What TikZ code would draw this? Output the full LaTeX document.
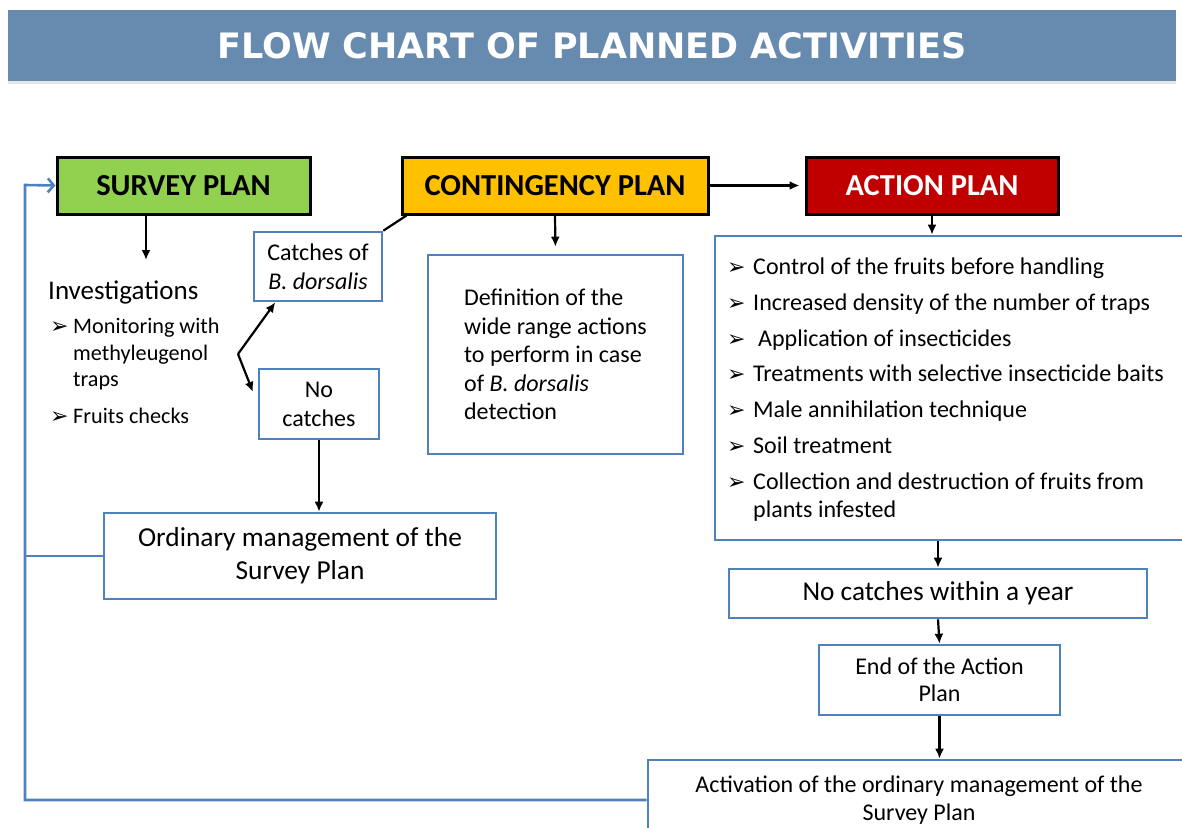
\documentclass[tikz,border=0pt]{standalone}
\usepackage{fontspec}
\setmainfont{Carlito}
\newfontfamily\headfont{DejaVu Sans}
\usepackage{tikz}
\usetikzlibrary{arrows.meta,shadows}

\definecolor{headblue}{RGB}{103,138,175}
\definecolor{survgreen}{RGB}{146,208,80}
\definecolor{contgold}{RGB}{255,192,0}
\definecolor{actred}{RGB}{192,0,0}
\definecolor{lineblue}{RGB}{79,129,189}

\newcommand{\arrbullet}{{\headfont\fontsize{22}{22}\selectfont ➢}}

\begin{document}
\begin{tikzpicture}[x=1pt,y=-1pt,font=\fontsize{24}{28}\selectfont,
  plan/.style={draw=black,line width=3pt,minimum height=57pt,
    font=\fontsize{30.5}{30.5}\selectfont\bfseries},
  box/.style={draw=lineblue,line width=2.6pt,align=center},
  txt/.style={anchor=base west,inner sep=0pt},
  arr/.style={line width=2.2pt,-{Latex[length=10pt,width=9pt]}},
  loopline/.style={draw=lineblue,line width=2.6pt}]

\useasboundingbox (0,0) rectangle (1182,827);

% heading
\node[fill=headblue,minimum width=1168pt,minimum height=71pt,text=white,
  font=\headfont\bfseries\fontsize{35}{35}\selectfont,
  drop shadow={opacity=0.2,shadow xshift=0pt,shadow yshift=-3pt}]
  (head) at (592,45.5) {FLOW CHART OF PLANNED ACTIVITIES};

% the three plans
\node[plan,fill=survgreen,minimum width=253pt] (survey) at (183.5,185.5) {SURVEY PLAN};
\node[plan,fill=contgold,minimum width=306pt] (cont) at (555,185.5) {CONTINGENCY PLAN};
\node[plan,fill=actred,text=white,minimum width=252pt] (action) at (932,185.5) {ACTION PLAN};

% survey plan: investigations
\node[txt,font=\fontsize{27}{27}\selectfont] (inv) at (48,299) {Investigations};
\foreach \yy/\t [count=\i] in {333/Monitoring with,360/methyleugenol,386/traps,423/Fruits checks}
  \node[txt,font=\fontsize{22.2}{22.2}\selectfont] (inv\i) at (73,\yy) {\t};
\foreach \yy in {333,423}
  \node[txt] (invb\yy) at (50,\yy) {\arrbullet};

% outcomes of the traps
\node[box,minimum width=128pt,minimum height=69pt,font=\fontsize{24}{29}\selectfont]
  (catches) at (318,266.5) {Catches of\\\textit{B. dorsalis}};
\node[box,minimum width=120pt,minimum height=70pt,font=\fontsize{24}{29}\selectfont]
  (nocatch) at (319,404) {No\\catches};
\node[box,minimum width=392pt,minimum height=86pt,font=\fontsize{27.4}{33}\selectfont]
  (ordin) at (300,556) {Ordinary management of the\\Survey Plan};

% contingency plan
\node[box,align=left,minimum width=255pt,minimum height=199pt,font=\fontsize{24}{28.5}\selectfont]
  (defin) at (555.5,354.5) {Definition of the\\wide range actions\\to perform in case\\of \textit{B. dorsalis}\\detection};

% action plan
\node[box,minimum width=480pt,minimum height=304pt] (measures) at (955,388) {};
\foreach \xx/\yy/\t in {753/274/Control of the fruits before handling,
    753/310/Increased density of the number of traps,
    758/346/Application of insecticides,
    753/381/Treatments with selective insecticide baits,
    753/417/Male annihilation technique,
    753/453/Soil treatment,
    753/489/Collection and destruction of fruits from,
    753/517/plants infested}
  \node[txt] (m\yy) at (\xx,\yy) {\t};
\foreach \yy in {274,310,346,381,417,453,489}
  \node[txt] (mb\yy) at (727,\yy) {\arrbullet};

\node[box,minimum width=418pt,minimum height=49pt,font=\fontsize{27.3}{27.3}\selectfont]
  (noyear) at (938,593.5) {No catches within a year};
\node[box,minimum width=241pt,minimum height=70pt,font=\fontsize{24}{27}\selectfont]
  (endap) at (939.5,680) {End of the Action\\Plan};
\node[box,minimum width=542pt,minimum height=80pt,font=\fontsize{24}{28}\selectfont]
  (activ) at (919,800) {Activation of the ordinary management of the\\Survey Plan};

% arrows
\coordinate (survtip) at (146,260);
\coordinate (fork) at (238,354);
\draw[arr] (survey.south -| survtip) -- (survtip);
\draw[line width=2.2pt] ([xshift=6pt]cont.south west) -- (catches.north east);
\draw[arr] (fork) -- (catches.220);
\draw[arr,shorten >=13pt] (fork) -- (nocatch.west);
\draw[arr] (nocatch.south) -- (nocatch.south |- ordin.north);
\draw[arr,shorten >=7pt] (cont.south) -- (defin.north);
\draw[arr,shorten >=5pt] (cont.east) -- (action.west);
\draw[arr] (action.south) -- (action.south |- measures.north);
\draw[arr] (measures.south -| noyear.north) -- (noyear.north);
\draw[arr] (noyear.south) -- (endap.north);
\draw[arr] (endap.south) -- (endap.south |- activ.north);

% back to the survey plan
\coordinate (loop) at (25,185);
\draw[loopline,-{Straight Barb[length=6pt,width=14pt]}] (activ.west) -| (loop) -- (survey.west);
\draw[loopline] (ordin.west) -- (ordin.west -| loop);
\end{tikzpicture}
\end{document}
